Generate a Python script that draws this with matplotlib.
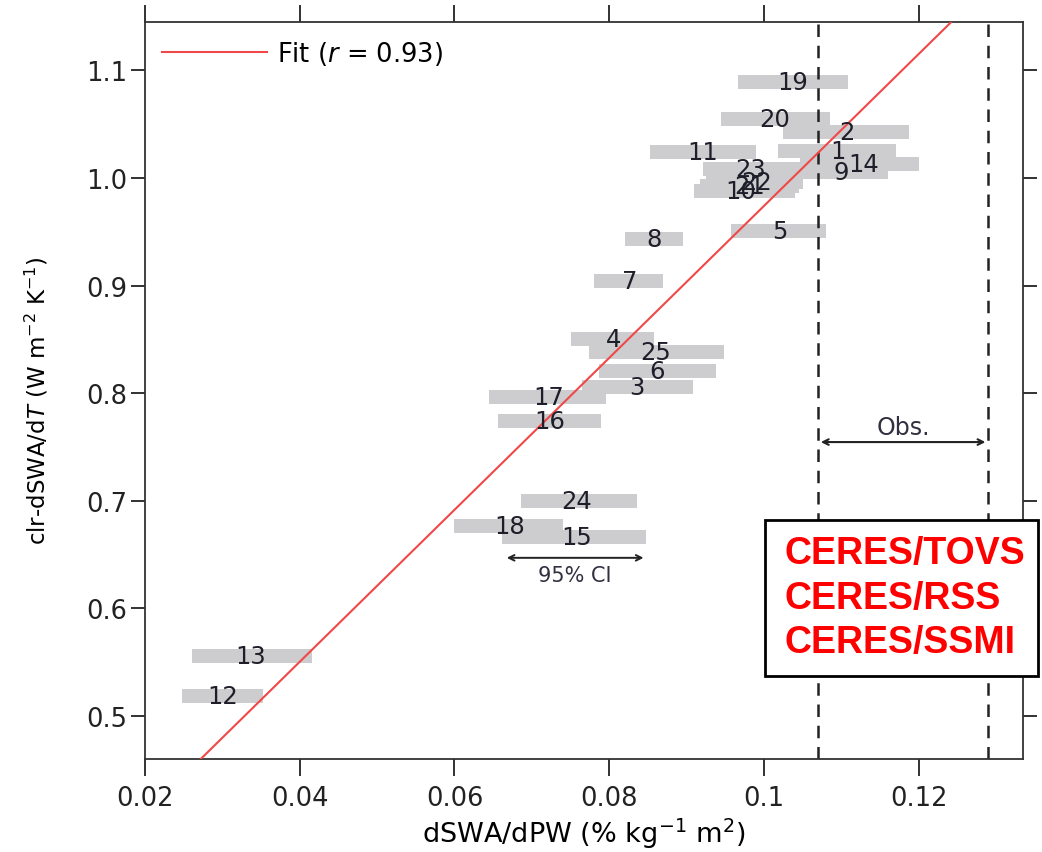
import numpy as np
import matplotlib
matplotlib.use("Agg")
import matplotlib.pyplot as plt
from matplotlib.patches import Rectangle

plt.rcParams['font.family'] = ['DejaVu Sans']
plt.rcParams['mathtext.fontset'] = 'dejavusans'

# model number, point estimate (x), CI low, CI high, clr-dSWA/dT (y)
models = ['19', '20', '2', '11', '1', '14', '9', '23', '22', '21', '10',
          '5', '8', '7', '4', '25', '6', '3', '17', '16', '24', '18', '15',
          '13', '12']
x_est = [0.1037, 0.1014, 0.1107, 0.0921, 0.1096, 0.1129, 0.1100, 0.0983,
         0.0990, 0.0982, 0.0970, 0.1021, 0.0858, 0.0826, 0.0806, 0.0860,
         0.0862, 0.0836, 0.0722, 0.0723, 0.0758, 0.0671, 0.0758, 0.0336,
         0.0300]
x_lo = [0.0966, 0.0944, 0.1025, 0.0853, 0.1018, 0.1047, 0.1040, 0.0921,
        0.0925, 0.0918, 0.0910, 0.0958, 0.0821, 0.0780, 0.0751, 0.0774,
        0.0787, 0.0765, 0.0645, 0.0656, 0.0686, 0.0600, 0.0662, 0.0261,
        0.0248]
x_hi = [0.1109, 0.1085, 0.1188, 0.0990, 0.1171, 0.1201, 0.1161, 0.1047,
        0.1050, 0.1045, 0.1040, 0.1080, 0.0896, 0.0870, 0.0858, 0.0948,
        0.0938, 0.0909, 0.0796, 0.0790, 0.0836, 0.0740, 0.0847, 0.0416,
        0.0352]
y_val = [1.089, 1.0545, 1.043, 1.024, 1.025, 1.0127, 1.006, 1.008, 0.996,
         0.993, 0.988, 0.9505, 0.943, 0.904, 0.850, 0.838, 0.8205, 0.8057,
         0.7964, 0.774, 0.700, 0.6766, 0.6664, 0.556, 0.5187]

fit_slope = 7.06
fit_intercept = 0.268
obs_lo, obs_hi = 0.107, 0.129
ci_lo, ci_hi = 0.0664, 0.0848

fig = plt.figure(figsize=(10.42, 8.53), dpi=100)
ax = fig.add_axes([0.1392, 0.109, 0.8426, 0.864])

ax.barh(y_val, np.array(x_hi) - np.array(x_lo), left=x_lo, height=0.013,
        color='#cdcdcf', zorder=1)

xx = np.array([0.0, 0.2])
ax.plot(xx, fit_intercept + fit_slope * xx, color='#f04848', lw=1.5,
        label='Fit ($r$ = 0.93)', zorder=3)

for xv in (obs_lo, obs_hi):
    ax.axvline(xv, color='#222222', lw=1.8, ls=(0, (5, 3.5)), zorder=2)

for m, xe, ye in zip(models, x_est, y_val):
    ax.text(xe, ye, m, ha='center', va='center', fontsize=17.5,
            color='#1e1e2a', zorder=4)

ax.annotate('', xy=(ci_lo, 0.647), xytext=(ci_hi, 0.647),
            arrowprops=dict(arrowstyle='<->', color='#222222', lw=1.4))
ax.text((ci_lo + ci_hi) / 2, 0.631, '95% CI', ha='center', va='center',
        fontsize=15, color='#303040')

ax.annotate('', xy=(obs_lo, 0.7546), xytext=(obs_hi, 0.7546),
            arrowprops=dict(arrowstyle='<->', color='#222222', lw=1.5))
ax.text((obs_lo + obs_hi) / 2, 0.769, 'Obs.', ha='center', va='center',
        fontsize=17, color='#303040')

ax.set_xlim(0.02, 0.1335)
ax.set_ylim(0.46, 1.145)
ax.set_xticks([0.02, 0.04, 0.06, 0.08, 0.1, 0.12])
ax.set_xticklabels(['0.02', '0.04', '0.06', '0.08', '0.1', '0.12'])
ax.set_yticks([0.5, 0.6, 0.7, 0.8, 0.9, 1.0, 1.1])
ax.tick_params(direction='out', width=1.3, labelsize=18.5,
               top=True, right=True, colors='#222222')
ax.tick_params(axis='x', length=12, pad=7)
ax.tick_params(axis='y', length=10, pad=3)
for s in ax.spines.values():
    s.set_linewidth(1.3)
    s.set_color('#333333')

ax.set_xlabel('dSWA/dPW (% kg$^{-1}$ m$^{2}$)', fontsize=19.5, labelpad=3)
ax.set_ylabel('clr-dSWA/d$T$ (W m$^{-2}$ K$^{-1}$)', fontsize=16.5)
ax.yaxis.set_label_coords(-0.108, 0.487)

ax.legend(loc='upper left', frameon=False, fontsize=18.5, handlelength=4.1,
          handletextpad=0.4, borderaxespad=0.25)

# red annotation box drawn on top of the figure
W, H = 1042, 853
fig.patches.append(Rectangle((765 / W, 1 - 677 / H), 273 / W, 156 / H,
                             transform=fig.transFigure, facecolor='white',
                             edgecolor='black', lw=2, zorder=10))
for i, t in enumerate(['CERES/TOVS', 'CERES/RSS', 'CERES/SSMI']):
    fig.text(784 / W, 1 - (554 + 44.5 * i) / H, t, color='#ff0000',
             fontsize=27, fontweight='bold', family='Liberation Sans',
             va='center', ha='left', zorder=11)

fig.savefig('out.png', dpi=100)
